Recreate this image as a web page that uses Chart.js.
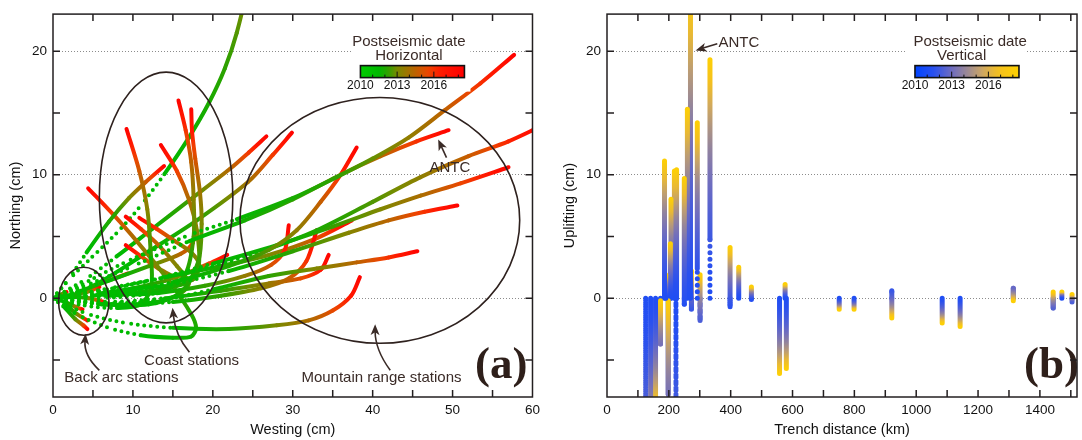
<!DOCTYPE html>
<html>
<head>
<meta charset="utf-8">
<script src="https://cdn.jsdelivr.net/npm/chart.js@4.4.1/dist/chart.umd.min.js"></script>
<style>
html,body{margin:0;padding:0;background:#fff;}
#wrap{position:relative;width:1082px;height:440px;}
#boxA{position:absolute;left:0;top:0;width:545px;height:440px;}
#boxB{position:absolute;left:545px;top:0;width:537px;height:440px;}
</style>
</head>
<body>
<div id="wrap">
  <div id="boxA"><canvas id="chartA"></canvas></div>
  <div id="boxB"><canvas id="chartB"></canvas></div>
</div>
<script>
// ---- data ----
// (a) horizontal postseismic paths, [westing cm, northing cm], start at the origin
const backArcTracks = [
  [[0,0],[1.5,-0.8],[2.8,-1.7],[3.8,-2.2],[4.3,-2.5]],
  [[0,0],[1.5,-0.5],[3,-1.3],[4.3,-1.8]],
  [[0,0],[1.5,-0.3],[2.8,-0.7],[3.7,-0.9]],
  [[0,0],[2.5,0.3],[4.2,0.5],[5.8,0.9]],
  [[0,0],[2.5,0.1],[4.5,0],[6.4,-0.3]],
  [[0,0],[1,0.3],[1.7,0.5]]
];
const coastTracks = [
  [[0,0],[4,-0.6],[8,-0.8],[11,-0.5],[12.3,1],[12.2,4],[11.8,7.2],[10.8,10.3],[9.2,13.7]],
  [[0,0],[5,0.2],[10,0.3],[14,0.6],[16.6,2],[17.6,5],[17.6,8],[17.3,11],[16.6,13.6],[15.7,16.0]],
  [[0,0],[6,-0.5],[12,-0.5],[16,0.5],[18.2,3],[18.6,6],[18.4,8.5],[17.8,11.3],[17.4,13.5],[17.3,15.3]],
  [[0,0],[6,0.4],[12,0.9],[16.5,1.2],[18.2,2.5],[18,5.5],[17,8],[15.5,10.3],[13.5,12.4]],
  [[0,0],[2,1.6],[4.2,3.7],[7,6.2],[9.5,8.1],[11.6,9.4],[13.9,10.7]],
  [[0,0],[3,-1.3],[7,-2.4],[11,-3.0],[15,-3.2],[17.3,-3.1],[17.9,-2.4],[17.3,-1.3],[14.5,1.4],[10.5,4.6],[7.5,6.8],[4.4,8.9]],
  [[0,0],[6,-0.5],[12,-0.4],[15.5,0.2],[17,1.2],[15.5,2.6],[13.2,4.3],[11,5.6],[9.1,6.6]],
  [[0,0],[7,0.2],[13,0.6],[17.5,1.5],[18.3,2.7],[17.3,3.7],[15.3,4.6],[13,5.6],[10.8,6.5]],
  [[0,0],[6,0.3],[11,0.5],[14.5,0.9],[15.5,1.5],[13.2,2.4],[11,3.4],[9.1,4.3]],
  [[0,0],[6,1.2],[12,2.6],[16,3.6],[17.5,4.5],[17.7,6.1]],
  [[0,0],[5,0.2],[10,0.8],[14,1.4],[17,2.1],[19.5,2.8],[21.8,3.5]],
  [[0,0],[3,0.5],[6,1.2],[9.4,2.0]],
  [[0,0],[2,1.5],[5,3.4],[8,5.3],[11,7.5],[14,10.1],[17,13],[19.5,15.8],[21.5,18.6],[23,21.5],[24.2,25],[25.2,31],[26,38]],
  [[0,0],[4,1.5],[8,3.4],[12.4,5.6],[17,7.9],[22.2,10.5],[24.5,11.8],[26.7,13.1]],
  [[0,0],[5,1],[12,3.8],[18,6.3],[24.4,9.4],[27.5,11.6],[29.9,13.4]]
];
const mountainTracks = [
  [[0,0],[3,0.9],[9,2.9],[17,5.1],[23,6.4],[30,8.1],[35.5,9.8],[40,11.3],[44.5,13],[49,15.2],[53.5,17.4],[57.7,19.7]],
  [[0,0],[4,1],[10,2.6],[17,4.6],[24,6.3],[30,8.0],[36,10.0],[41,11.5],[45.5,12.7],[49.5,13.6]],
  [[0,0],[8,0.5],[15,1.3],[22,2.6],[27,3.9],[30.5,5.5],[33.5,7.8],[36,10],[38,12.2]],
  [[0,0],[5,0.5],[12,1.4],[20,2.6],[27,4],[33,5.5],[40,7.8],[46,9.8],[52,11.5],[57,12.7],[61,13.9]],
  [[0,0],[6,0.6],[13,1.6],[20,2.8],[28,4.3],[35,5.8],[41,7.2],[46,8.3],[51,9.3],[57,10.6]],
  [[0,0],[6,0.3],[14,1],[22,2.2],[30,3.8],[37,5.3],[42,6.3],[46.5,7],[50.6,7.5]],
  [[0,0],[6,-0.4],[13,-0.2],[20,0.7],[27,1.8],[33,2.4],[38,2.9],[42,3.3],[45.6,3.8]],
  [[0,0],[4,-1.2],[9,-2],[15,-2.4],[22,-2.5],[28,-2.2],[32,-1.8],[35,-1],[37.3,0.2],[38.4,1.7]],
  [[0,0],[6,0],[13,0.4],[19,1],[24,1.8],[27.3,2.7],[29,3.9],[29.5,5.9]],
  [[0,0],[8,-0.5],[15,-0.3],[21,0.2],[26,0.8],[29.5,1.6],[31.7,3],[33,5.5]],
  [[0,0],[7,0.8],[14,1.7],[21,2.6],[27,3.5],[32.8,4.8],[37.4,6.3]],
  [[0,0],[7,-0.3],[14,0],[21,0.6],[27,1.2],[31,1.6],[33.5,2.3],[34.5,3.5]]
];

// (b) vertical postseismic paths: trench distance (km) and uplift path (cm)
const stationKm = [125,141,157,173,186,190,198,205,207,218,223,225,250,260,270,273,292,301,333,398,426,467,558,576,580,751,799,921,1084,1142,1314,1443,1471,1504];
const stationUplift = [
  [0,-8.6,-25],[0,-14],[0,-9],[0,-3.7,-0.2],[0,11.1],[0,1.9],[0,-7.8,-0.2],[0,4.4],[0,8.0],[0,10.3],
  [0,-9,-30],[0,10.4],[0,-0.5,9.7],[0,15.3],[0,24.5],[0,-0.9,2.2],[0,2.4,14.2],[0,-1.8,1.9],[0,4.8,19.3],
  [0,-0.7,4.1],[0,2.5],[0,-0.1,0.9],[0,-6.1],[0,1.1],[0,-5.7],[0,-0.9],[0,-0.9],[0,0.6,-1.6],
  [0,-2.0],[0,-2.3],[0,0.8,-0.2],[0,-0.8,0.5],[0,0.5],[0,-0.3,0.3]
];

const westLabels = [0,10,20,30,40,50,60];
const northLabels = [0,10,20];
const trenchLabels = [0,200,400,600,800,1000,1200,1400];
const barYears = [2010,2013,2016];

// ---- colour scales (years after 2010) ----
const HSTOPS = [[0,'#00cc00'],[1.5,'#00b800'],[2.3,'#30a000'],[3,'#7a8a00'],[4.3,'#b46800'],[5.6,'#ee4400'],[6.6,'#ff1a00'],[8.5,'#ff0000']];
const VSTOPS = [[0,'#0044ff'],[1.5,'#2850f0'],[3,'#6e6cc0'],[4.4,'#a08c90'],[5.6,'#d0a860'],[6.8,'#f4c020'],[8.5,'#ffd200']];
const INK = '#3a2b27';
const FONT = '"Liberation Sans", Arial, Helvetica, sans-serif';

function hexRgb(h){
    return [parseInt(h.slice(1,3),16), parseInt(h.slice(3,5),16), parseInt(h.slice(5,7),16)];
}
function colorAt(stops, yr){
    if (yr <= stops[0][0]) return stops[0][1];
    for (let i = 1; i < stops.length; i++){
        if (yr <= stops[i][0]){
            const a = hexRgb(stops[i-1][1]), b = hexRgb(stops[i][1]);
            const t = (yr - stops[i-1][0]) / (stops[i][0] - stops[i-1][0]);
            return 'rgb(' + a.map((v,k)=>Math.round(v + (b[k]-v)*t)).join(',') + ')';
        }
    }
    return stops[stops.length-1][1];
}
// motion decays with time: fraction of path -> years after 2010 (start 2011.2, 7 years)
function yearOf(f, tau){ return 1.2 + tau*(Math.pow(1 + 7/tau, f) - 1); }

function pathDataset(pts, stops, width, dotLimit, tension, tau){
    const cum = [0];
    for (let i = 1; i < pts.length; i++){
        cum.push(cum[i-1] + Math.hypot(pts[i][0]-pts[i-1][0], pts[i][1]-pts[i-1][1]));
    }
    const total = cum[cum.length-1] || 1;
    const frac = cum.map(c => c/total);
    return {
        data: pts.map(p => ({x:p[0], y:p[1]})),
        borderWidth: width,
        borderCapStyle: 'round',
        borderJoinStyle: 'round',
        borderColor: colorAt(stops, yearOf(1, tau)),
        pointRadius: 0,
        fill: false,
        tension: tension,
        segment: {
            borderColor: ctx => {
                const f0 = frac[ctx.p0DataIndex], f1 = frac[ctx.p1DataIndex];
                const g = ctx.chart.ctx.createLinearGradient(ctx.p0.x, ctx.p0.y, ctx.p1.x + 0.01, ctx.p1.y + 0.01);
                for (let k = 0; k <= 8; k++){
                    g.addColorStop(k/8, colorAt(stops, yearOf(f0 + (f1-f0)*k/8, tau)));
                }
                return g;
            },
            borderDash: ctx => frac[ctx.p1DataIndex] <= dotLimit ? [0, 6.5] : [],
            borderDashOffset: ctx => ctx.p0DataIndex * 0.001
        }
    };
}

// ---- drawing helpers ----
function drawFrame(chart, xStep, yStep){
    const {ctx, chartArea:a, scales:{x, y}} = chart;
    ctx.save();
    ctx.strokeStyle = '#231f20';
    ctx.lineWidth = 1.5;
    ctx.beginPath();
    for (let v = Math.ceil(x.min/xStep)*xStep; v <= x.max; v += xStep){
        const px = x.getPixelForValue(v);
        if (px <= a.left+1 || px >= a.right-1) continue;
        ctx.moveTo(px, a.bottom); ctx.lineTo(px, a.bottom-7);
        ctx.moveTo(px, a.top); ctx.lineTo(px, a.top+7);
    }
    for (let v = Math.ceil(y.min/yStep)*yStep; v <= y.max; v += yStep){
        const py = y.getPixelForValue(v);
        if (py <= a.top+1 || py >= a.bottom-1) continue;
        ctx.moveTo(a.left, py); ctx.lineTo(a.left+7, py);
        ctx.moveTo(a.right, py); ctx.lineTo(a.right-7, py);
    }
    ctx.stroke();
    ctx.strokeRect(a.left, a.top, a.right-a.left, a.bottom-a.top);
    ctx.restore();
}

function drawEllipse(chart, cx, cy, rx, ry){
    const {ctx, scales:{x, y}} = chart;
    const px = x.getPixelForValue(cx), py = y.getPixelForValue(cy);
    ctx.save();
    ctx.strokeStyle = '#2e211e';
    ctx.lineWidth = 1.6;
    ctx.beginPath();
    ctx.ellipse(px, py, Math.abs(x.getPixelForValue(cx+rx)-px), Math.abs(y.getPixelForValue(cy+ry)-py), 0, 0, Math.PI*2);
    ctx.stroke();
    ctx.restore();
}

function drawArrow(chart, from, ctrl, tip){
    const {ctx, scales:{x, y}} = chart;
    const s = [x.getPixelForValue(from[0]), y.getPixelForValue(from[1])];
    const e = [x.getPixelForValue(tip[0]), y.getPixelForValue(tip[1])];
    const c = ctrl ? [x.getPixelForValue(ctrl[0]), y.getPixelForValue(ctrl[1])] : s;
    let dx = e[0]-c[0], dy = e[1]-c[1];
    const len = Math.hypot(dx, dy);
    dx /= len; dy /= len;
    const back = [e[0]-dx*7, e[1]-dy*7];
    ctx.save();
    ctx.strokeStyle = INK;
    ctx.fillStyle = INK;
    ctx.lineWidth = 1.6;
    ctx.beginPath();
    ctx.moveTo(s[0], s[1]);
    if (ctrl) ctx.quadraticCurveTo(c[0], c[1], back[0], back[1]);
    else ctx.lineTo(back[0], back[1]);
    ctx.stroke();
    ctx.beginPath();
    ctx.moveTo(e[0], e[1]);
    ctx.lineTo(e[0]-dx*11 - dy*4.5, e[1]-dy*11 + dx*4.5);
    ctx.lineTo(e[0]-dx*8, e[1]-dy*8);
    ctx.lineTo(e[0]-dx*11 + dy*4.5, e[1]-dy*11 - dx*4.5);
    ctx.closePath();
    ctx.fill();
    ctx.restore();
}

function drawText(chart, str, at, size, align){
    const {ctx, scales:{x, y}} = chart;
    ctx.save();
    ctx.fillStyle = INK;
    ctx.font = size + 'px ' + FONT;
    ctx.textAlign = align || 'center';
    ctx.textBaseline = 'middle';
    ctx.fillText(str, x.getPixelForValue(at[0]), y.getPixelForValue(at[1]));
    ctx.restore();
}

function drawColorBar(chart, anchor, stops, title2, t1dx, t2dx){
    const {ctx, scales:{x, y}} = chart;
    const bx = x.getPixelForValue(anchor[0]), by = y.getPixelForValue(anchor[1]);
    const bw = 104, bh = 12, span = 8.5;
    ctx.save();
    ctx.fillStyle = '#fff';
    ctx.fillRect(bx-8, by-34, bw+14, 60);
    const g = ctx.createLinearGradient(bx, 0, bx+bw, 0);
    for (let k = 0; k <= 17; k++) g.addColorStop(k/17, colorAt(stops, span*k/17));
    ctx.fillStyle = g;
    ctx.fillRect(bx, by, bw, bh);
    ctx.strokeStyle = '#111';
    ctx.lineWidth = 1;
    ctx.beginPath();
    for (let yr = 1; yr < span; yr++){
        const px = bx + bw*yr/span;
        ctx.moveTo(px, by+bh);
        ctx.lineTo(px, by+bh-(yr % 3 === 0 ? 6 : 3));
    }
    ctx.stroke();
    ctx.lineWidth = 1.6;
    ctx.strokeRect(bx, by, bw, bh);
    ctx.fillStyle = '#111';
    ctx.font = '12px ' + FONT;
    ctx.textAlign = 'center';
    ctx.textBaseline = 'middle';
    barYears.forEach(yr => ctx.fillText(String(yr), bx + bw*(yr-2010)/span, by+20));
    ctx.fillStyle = INK;
    ctx.font = '15px ' + FONT;
    ctx.fillText('Postseismic date', bx + bw/2 + t1dx, by-24);
    ctx.fillText(title2, bx + bw/2 + t2dx, by-10);
    ctx.restore();
}

function drawPanelLetter(chart, str, dx){
    const {ctx, chartArea:a} = chart;
    ctx.save();
    ctx.fillStyle = '#2e1f1a';
    ctx.font = 'bold 45px "Liberation Serif", "Times New Roman", serif';
    ctx.textAlign = 'right';
    ctx.textBaseline = 'alphabetic';
    ctx.fillText(str, a.right + dx, a.bottom - 19);
    ctx.restore();
}

function axisOptions(min, max, step, labels, title, isY, fitSize, titlePad){
    return {
        type: 'linear', min: min, max: max,
        afterFit: s => { if (isY) s.width = fitSize; else s.height = fitSize; },
        ticks: {
            stepSize: step, autoSkip: false, maxRotation: 0, padding: isY ? 6 : 5,
            color: '#111', font: {family: FONT, size: 13.5},
            callback: v => labels.includes(v) ? String(v) : ''
        },
        grid: isY ? {
            drawTicks: false, lineWidth: 1,
            color: c => labels.includes(c.tick.value) ? '#8c8c8c' : 'rgba(0,0,0,0)'
        } : {display: false, drawTicks: false},
        border: {display: false, dash: [1, 2]},
        title: {display: true, text: title, color: '#111', font: {family: FONT, size: 14.5}, padding: titlePad}
    };
}

// ---- panel (a) ----
const datasetsA = [];
mountainTracks.forEach(t => datasetsA.push(pathDataset(t, HSTOPS, 4, 0.45, 0.3, 0.08)));
coastTracks.forEach(t => datasetsA.push(pathDataset(t, HSTOPS, 4, 0.36, 0.3, 0.08)));
backArcTracks.forEach(t => datasetsA.push(pathDataset(t, HSTOPS, 4, 0.36, 0.3, 0.08)));

const decorA = {
    id: 'decorA',
    afterDatasetsDraw(chart){
        drawEllipse(chart, 3.85, -0.25, 3.15, 2.75);
        drawEllipse(chart, 14.15, 8.15, 8.35, 10.15);
        drawEllipse(chart, 40.9, 6.3, 17.5, 9.95);
        drawArrow(chart, [5.8,-5.84], [3.84,-4.64], [4.08,-2.88]);
        drawArrow(chart, [17.07,-4.37], [15.3,-3.04], [14.96,-0.77]);
        drawArrow(chart, [42.2,-5.84], [40.3,-4.16], [40.31,-2.1]);
        drawArrow(chart, [49.24,11.38], null, [48.2,12.85]);
        drawText(chart, 'Back arc stations', [8.56,-6.48], 15);
        drawText(chart, 'Coast stations', [17.34,-5.09], 15);
        drawText(chart, 'Mountain range stations', [41.1,-6.48], 15);
        drawText(chart, 'ANTC', [49.67,10.58], 15);
        drawColorBar(chart, [38.47,18.83], HSTOPS, 'Horizontal', -3.5, -3.5);
        drawPanelLetter(chart, '(a)', -5);
    },
    afterDraw(chart){ drawFrame(chart, 5, 5); }
};

new Chart(document.getElementById('chartA'), {
    type: 'line',
    data: {datasets: datasetsA},
    options: {
        responsive: true, maintainAspectRatio: false, animation: false, events: [],
        devicePixelRatio: 1,
        layout: {padding: {top: 10, right: 7, left: 0, bottom: 0}},
        plugins: {legend: {display: false}, tooltip: {enabled: false}},
        scales: {
            x: axisOptions(0, 60, 5, westLabels, 'Westing (cm)', false, 43, {top: 0, bottom: 1}),
            y: axisOptions(-8, 23, 5, northLabels, 'Northing (cm)', true, 53, {top: 7, bottom: 0})
        }
    },
    plugins: [decorA]
});

// ---- panel (b) ----
const datasetsB = stationKm.map((km, i) =>
    pathDataset(stationUplift[i].map(v => [km, v]), VSTOPS, 5, 0.36, 0, 1.2));

const decorB = {
    id: 'decorB',
    afterDatasetsDraw(chart){
        drawArrow(chart, [356.7,20.6], null, [286.6,20.06]);
        drawText(chart, 'ANTC', [426.7,20.65], 15);
        drawColorBar(chart, [996,18.83], VSTOPS, 'Vertical', 3.2, -5.3);
        drawPanelLetter(chart, '(b)', 2);
    },
    afterDraw(chart){ drawFrame(chart, 100, 5); }
};

new Chart(document.getElementById('chartB'), {
    type: 'line',
    data: {datasets: datasetsB},
    options: {
        responsive: true, maintainAspectRatio: false, animation: false, events: [],
        devicePixelRatio: 1,
        layout: {padding: {top: 10, right: 2, left: 0, bottom: 0}},
        plugins: {legend: {display: false}, tooltip: {enabled: false}},
        scales: {
            x: axisOptions(0, 1520, 100, trenchLabels, 'Trench distance (km)', false, 43, {top: 0, bottom: 1}),
            y: axisOptions(-8, 23, 5, northLabels, 'Uplifting (cm)', true, 62, {top: 16, bottom: 0})
        }
    },
    plugins: [decorB]
});
</script>
</body>
</html>
